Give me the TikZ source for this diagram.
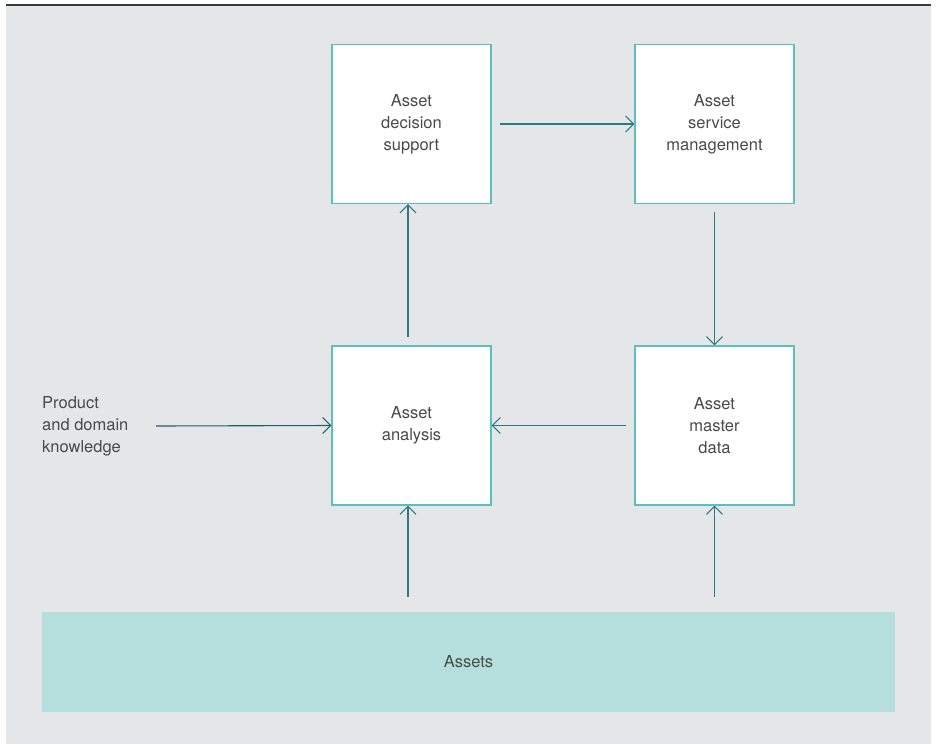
\documentclass[tikz,border=0pt]{standalone}
\usepackage{fontspec}
\setmainfont{TeX Gyre Heros}
\usetikzlibrary{arrows.meta}
\definecolor{bgcol}{HTML}{E5E6E8}
\definecolor{boxline}{HTML}{5BBFC0}
\definecolor{arrowcol}{HTML}{2A7A85}
\definecolor{darkarrow}{HTML}{1F5F6A}
\definecolor{assetfill}{HTML}{B5DFDD}
\definecolor{txt}{HTML}{4A4A4A}
\definecolor{topline}{HTML}{3A3A3C}
\tikzset{
  box/.style={draw=boxline, line width=1.2pt, fill=white, minimum width=159pt, minimum height=159pt, inner sep=0pt, align=center, text=txt, font=\fontsize{16.5}{22}\selectfont},
  conn/.style={draw=arrowcol, line width=1.1pt, -{Straight Barb[length=8pt,width=16pt,line width=1.1pt]}},
  lbl/.style={text=txt, font=\fontsize{16.5}{22}\selectfont}
}
\begin{document}
\begin{tikzpicture}[x=1pt,y=-1pt]
\useasboundingbox (0,0) rectangle (936,744);
\fill[bgcol] (6,6) rectangle (931,744);
\draw[topline, line width=1.5pt] (6,5) -- (931,5);
\node[box] (ads) at (411.5,124) {Asset\\decision\\support};
\node[box] (asm) at (714.5,124) {Asset\\service\\management};
\node[box] (aa) at (411.5,425.5) {Asset\\analysis};
\node[box] (amd) at (714.5,425.5) {Asset\\master\\data};
\node[fill=assetfill, minimum width=853pt, minimum height=100pt, inner sep=0pt, lbl] (assets) at (468.5,662) {Assets};
\node[lbl, align=left, anchor=west, inner sep=0pt] (know) at (42,426) {Product\\and domain\\knowledge};
\coordinate (k0) at (156,426);
\draw[conn] ([xshift=8pt]ads.east) -- (asm.west);
\draw[conn] ([yshift=-8pt]asm.south) -- (amd.north);
\draw[conn] ([xshift=-8pt]amd.west) -- (aa.east);
\draw[conn] ([xshift=-3.5pt,yshift=8pt]aa.north) -- ([xshift=-3.5pt]ads.south);
\draw[conn, draw=darkarrow] (k0) -- (aa.west);
\coordinate (s1) at ([xshift=-3.5pt,yshift=15pt]assets.north -| aa.south);
\coordinate (s2) at ([yshift=15pt]assets.north -| amd.south);
\draw[conn] (s1) -- ([xshift=-3.5pt]aa.south);
\draw[conn] (s2) -- (amd.south);
\end{tikzpicture}
\end{document}
